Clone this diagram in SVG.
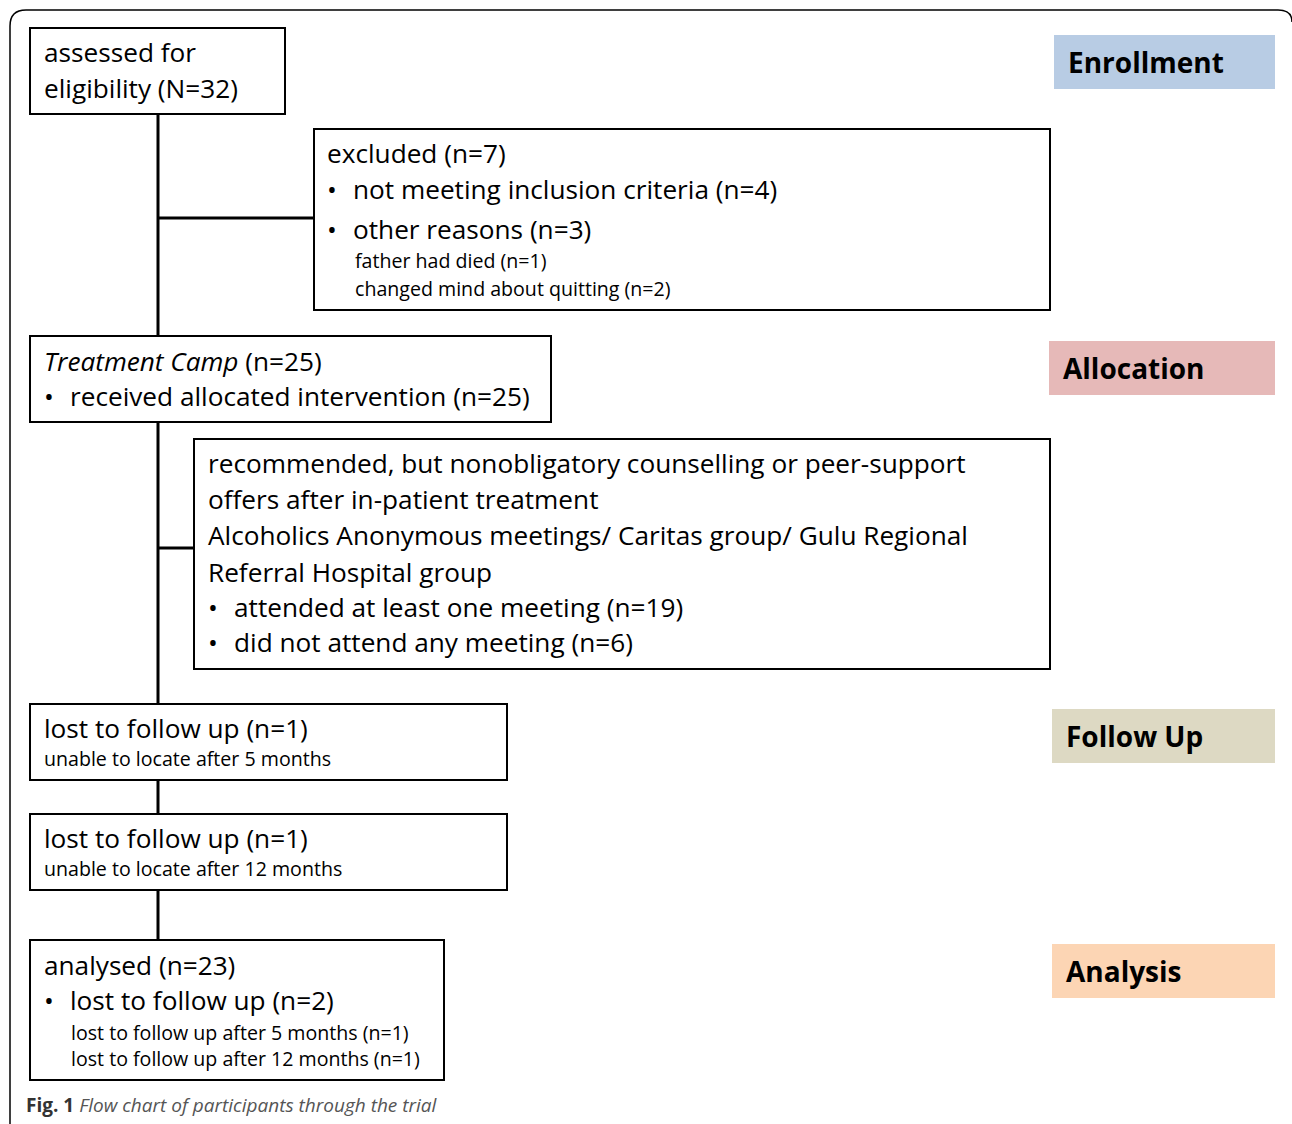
<svg xmlns="http://www.w3.org/2000/svg" width="1292" height="1124" viewBox="0 0 1292 1124">
<style>
.box{fill:#fff;stroke:#000;stroke-width:2}
.t{font-family:"Open Sans","Liberation Sans",sans-serif;font-size:26.2px;fill:#000}
.s{font-family:"Open Sans","Liberation Sans",sans-serif;font-size:19.6px;fill:#000}
.h{font-family:"Open Sans","Liberation Sans",sans-serif;font-size:28px;font-weight:bold;fill:#000}
.c{font-family:"Open Sans","Liberation Sans",sans-serif;font-size:19px;fill:#555}
.ln{stroke:#000;stroke-width:3;fill:none}
</style>
<rect width="1292" height="1124" fill="#fff"/>
<path d="M10,1124 V26 Q10,10 26,10 H1278 Q1292,10 1292,22" fill="none" stroke="#000" stroke-width="1.5"/>
<g id="connectors">
<path class="ln" d="M158,114 V336 M158,218 H314 M158,422 V704 M158,548 H194 M158,780 V814 M158,890 V940"/>
</g>
<g id="stage-enrollment"><rect x="1054" y="35" width="221" height="54" fill="#b8cce4"/><text class="h" x="1068" y="73">Enrollment</text></g>
<g id="stage-allocation"><rect x="1049" y="341" width="226" height="54" fill="#e6b9b8"/><text class="h" x="1063" y="379">Allocation</text></g>
<g id="stage-followup"><rect x="1052" y="709" width="223" height="54" fill="#ddd9c3"/><text class="h" x="1066" y="747">Follow Up</text></g>
<g id="stage-analysis"><rect x="1052" y="944" width="223" height="54" fill="#fcd5b4"/><text class="h" x="1066" y="982">Analysis</text></g>
<g id="assessed"><rect class="box" x="30" y="28" width="255" height="86"/>
<text class="t" x="44" y="62">assessed for</text><text class="t" x="44" y="98">eligibility (N=32)</text></g>
<g id="excluded"><rect class="box" x="314" y="129" width="736" height="181"/>
<text class="t" x="327" y="163">excluded (n=7)</text>
<text class="t" x="327" y="199">•</text><text class="t" x="353" y="199">not meeting inclusion criteria (n=4)</text>
<text class="t" x="327" y="239">•</text><text class="t" x="353" y="239">other reasons (n=3)</text>
<text class="s" x="355" y="268">father had died (n=1)</text>
<text class="s" x="355" y="296">changed mind about quitting (n=2)</text></g>
<g id="treatment"><rect class="box" x="30" y="336" width="521" height="86"/>
<text class="t" x="44" y="371"><tspan font-style="italic">Treatment Camp</tspan> (n=25)</text>
<text class="t" x="44" y="406">•</text><text class="t" x="70" y="406">received allocated intervention (n=25)</text></g>
<g id="counselling"><rect class="box" x="194" y="439" width="856" height="230"/>
<text class="t" x="208" y="473">recommended, but nonobligatory counselling or peer-support</text>
<text class="t" x="208" y="509">offers after in-patient treatment</text>
<text class="t" x="208" y="545">Alcoholics Anonymous meetings/ Caritas group/ Gulu Regional</text>
<text class="t" x="208" y="582">Referral Hospital group</text>
<text class="t" x="208" y="617">•</text><text class="t" x="234" y="617">attended at least one meeting (n=19)</text>
<text class="t" x="208" y="652">•</text><text class="t" x="234" y="652">did not attend any meeting (n=6)</text></g>
<g id="lost5"><rect class="box" x="30" y="704" width="477" height="76"/>
<text class="t" x="44" y="738">lost to follow up (n=1)</text>
<text class="s" x="44" y="766">unable to locate after 5 months</text></g>
<g id="lost12"><rect class="box" x="30" y="814" width="477" height="76"/>
<text class="t" x="44" y="848">lost to follow up (n=1)</text>
<text class="s" x="44" y="876">unable to locate after 12 months</text></g>
<g id="analysed"><rect class="box" x="30" y="940" width="414" height="140"/>
<text class="t" x="44" y="975">analysed (n=23)</text>
<text class="t" x="44" y="1010">•</text><text class="t" x="70" y="1010">lost to follow up (n=2)</text>
<text class="s" x="71" y="1040">lost to follow up after 5 months (n=1)</text>
<text class="s" x="71" y="1066">lost to follow up after 12 months (n=1)</text></g>
<text class="c" x="26" y="1112"><tspan font-weight="bold" fill="#333">Fig. 1</tspan> <tspan font-style="italic">Flow chart of participants through the trial</tspan></text>
</svg>
